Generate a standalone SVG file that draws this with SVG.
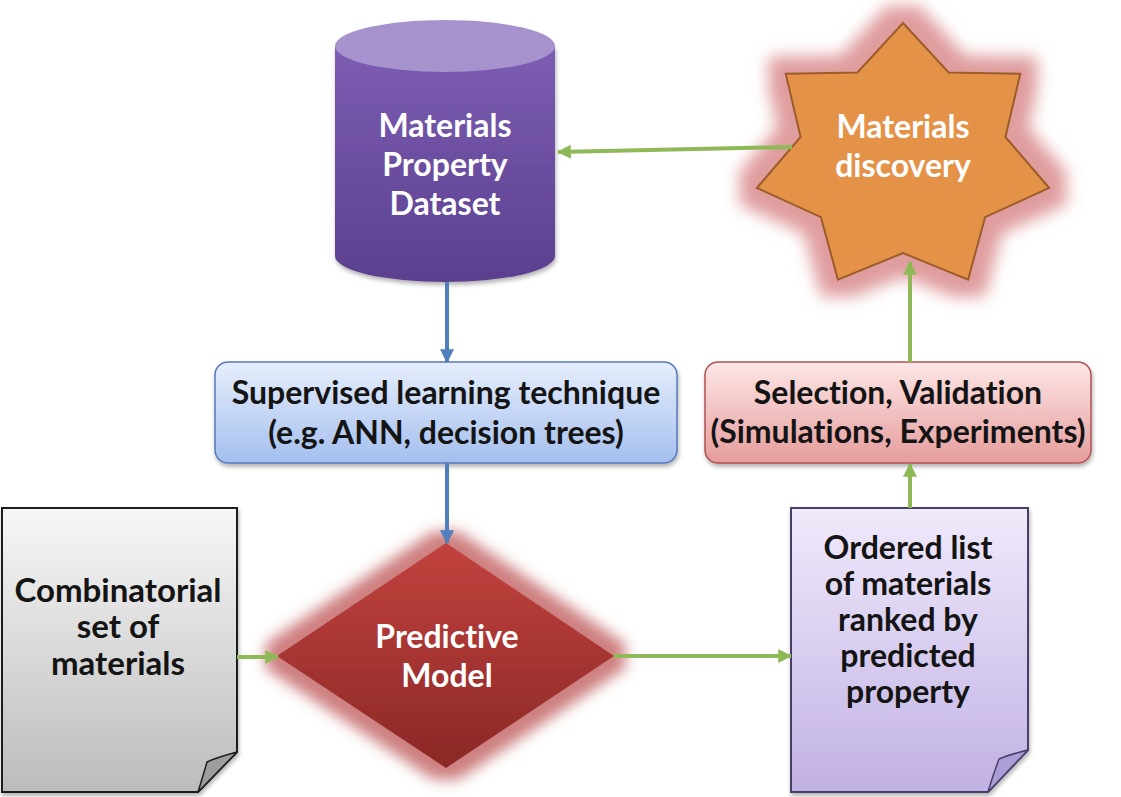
<svg xmlns="http://www.w3.org/2000/svg" width="1121" height="797" viewBox="0 0 1121 797">
<defs>
<style>
.t{font-family:Lato,"Liberation Sans",Arial,sans-serif;font-weight:bold;text-anchor:middle;font-variant-ligatures:none;font-feature-settings:"liga" 0}
.w{fill:#ffffff}
.k{fill:#141414}
.f32{font-size:32px}
.f33{font-size:33px}
.green{stroke:#8fb856;stroke-width:4;fill:none}
.blue{stroke:#4f7fbd;stroke-width:4;fill:none}
</style>
<linearGradient id="gCyl" x1="0" y1="0" x2="0" y2="1">
<stop offset="0" stop-color="#7d5db3"/><stop offset="1" stop-color="#5a408e"/>
</linearGradient>
<linearGradient id="gDia" x1="0" y1="0" x2="0" y2="1">
<stop offset="0" stop-color="#c2423e"/><stop offset="1" stop-color="#8a2826"/>
</linearGradient>
<linearGradient id="gBlue" x1="0" y1="0" x2="0" y2="1">
<stop offset="0" stop-color="#e6eefc"/><stop offset="1" stop-color="#a4bfee"/>
</linearGradient>
<linearGradient id="gRed" x1="0" y1="0" x2="0" y2="1">
<stop offset="0" stop-color="#fde6e6"/><stop offset="1" stop-color="#e69c9c"/>
</linearGradient>
<linearGradient id="gGray" x1="0" y1="0" x2="0" y2="1">
<stop offset="0" stop-color="#f7f7f7"/><stop offset="1" stop-color="#bcbcbc"/>
</linearGradient>
<linearGradient id="gLav" x1="0" y1="0" x2="0" y2="1">
<stop offset="0" stop-color="#f0eafb"/><stop offset="1" stop-color="#c1b1e4"/>
</linearGradient>
<filter id="glowRed" x="-25%" y="-30%" width="150%" height="160%">
<feMorphology in="SourceAlpha" operator="dilate" radius="12" result="d"/>
<feGaussianBlur in="d" stdDeviation="7" result="b"/>
<feFlood flood-color="#b9494a" flood-opacity="0.7"/>
<feComposite in2="b" operator="in" result="g"/>
<feMerge><feMergeNode in="g"/><feMergeNode in="SourceGraphic"/></feMerge>
</filter>
<filter id="glowPink" x="-25%" y="-25%" width="150%" height="150%">
<feMorphology in="SourceAlpha" operator="dilate" radius="16" result="d"/>
<feGaussianBlur in="d" stdDeviation="8" result="b"/>
<feFlood flood-color="#d27274" flood-opacity="0.7"/>
<feComposite in2="b" operator="in" result="g"/>
<feMerge><feMergeNode in="g"/><feMergeNode in="SourceGraphic"/></feMerge>
</filter>
<filter id="shadow" x="-10%" y="-10%" width="120%" height="130%">
<feDropShadow dx="1" dy="3" stdDeviation="2" flood-color="#000" flood-opacity="0.3"/>
</filter>
<marker id="ahG" viewBox="0 0 12 12" refX="11" refY="6" markerWidth="14" markerHeight="14" markerUnits="userSpaceOnUse" orient="auto">
<path d="M0,0 L12,6 L0,12 Z" fill="#8fb856"/>
</marker>
<marker id="ahB" viewBox="0 0 12 12" refX="11" refY="6" markerWidth="14" markerHeight="14" markerUnits="userSpaceOnUse" orient="auto">
<path d="M0,0 L12,6 L0,12 Z" fill="#4f7fbd"/>
</marker>
</defs>
<rect width="1121" height="797" fill="#ffffff"/>

<g id="dataset">
<path d="M335,46 V256 A110,26 0 0 0 555,256 V46 Z" fill="url(#gCyl)" filter="url(#shadow)"/>
<ellipse cx="445" cy="46" rx="110" ry="26" fill="#a693cd"/>
<text class="t w f32" x="445" y="137">Materials</text>
<text class="t w f32" x="445" y="176">Property</text>
<text class="t w f32" x="445" y="215">Dataset</text>
</g>

<g id="discovery">
<polygon points="903,23 948.6,72.4 1020.3,73.8 1005.4,136.9 1049.2,188 985.1,217.2 968.1,279.6 903,253 837.9,279.6 820.9,217.2 756.8,188 800.6,136.9 785.7,73.8 857.4,72.4" fill="#e5924a" stroke="#9c5c28" stroke-width="2" stroke-linejoin="miter" filter="url(#glowPink)"/>
<text class="t w f32" x="903" y="138">Materials</text>
<text class="t w f32" x="903" y="177">discovery</text>
</g>

<g id="supervised">
<rect x="215" y="362" width="462" height="101" rx="13" fill="url(#gBlue)" stroke="#5479b8" stroke-width="1.5" filter="url(#shadow)"/>
<text class="t k f32" x="446" y="404">Supervised learning technique</text>
<text class="t k f32" x="446" y="444">(e.g. ANN, decision trees)</text>
</g>

<g id="selection">
<rect x="705" y="362" width="386" height="101" rx="13" fill="url(#gRed)" stroke="#b05252" stroke-width="1.5" filter="url(#shadow)"/>
<text class="t k f32" x="898" y="404">Selection, Validation</text>
<text class="t k f32" x="898" y="443">(Simulations, Experiments)</text>
</g>

<g id="combinatorial">
<path d="M2,508 H237 V752 L198,792 H2 Z" fill="url(#gGray)" stroke="#1e1e1e" stroke-width="2" filter="url(#shadow)"/>
<path d="M237,752 Q215,758 207,762 Q203,776 198,792 Z" fill="#9d9d9d" stroke="#1e1e1e" stroke-width="1.5" stroke-linejoin="round"/>
<text class="t k f33" x="118" y="602">Combinatorial</text>
<text class="t k f33" x="118" y="638">set of</text>
<text class="t k f33" x="118" y="675">materials</text>
</g>

<g id="predictive">
<polygon points="446,543 614,656 446,768 277,656" fill="url(#gDia)" filter="url(#glowRed)"/>
<text class="t w f32" x="447" y="648">Predictive</text>
<text class="t w f32" x="447" y="687">Model</text>
</g>

<g id="ordered">
<path d="M791,508 H1028 V750 L988,792 H791 Z" fill="url(#gLav)" stroke="#4a3f6b" stroke-width="2" filter="url(#shadow)"/>
<path d="M1028,750 Q1008,755 999,759 Q993,775 988,792 Z" fill="#ad9dd6" stroke="#4a3f6b" stroke-width="1.5" stroke-linejoin="round"/>
<text class="t k f32" x="908" y="559">Ordered list</text>
<text class="t k f32" x="908" y="595">of materials</text>
<text class="t k f32" x="908" y="631">ranked by</text>
<text class="t k f32" x="908" y="667">predicted</text>
<text class="t k f32" x="908" y="703">property</text>
</g>

<g id="connectors">
<line class="blue" x1="447" y1="282" x2="447" y2="362" marker-end="url(#ahB)"/>
<line class="blue" x1="447" y1="463" x2="447" y2="543" marker-end="url(#ahB)"/>
<line class="green" x1="237" y1="657" x2="278" y2="657" marker-end="url(#ahG)"/>
<line class="green" x1="614" y1="656" x2="791" y2="656" marker-end="url(#ahG)"/>
<line class="green" x1="910" y1="508" x2="910" y2="464" marker-end="url(#ahG)"/>
<line class="green" x1="910" y1="362" x2="910" y2="262" marker-end="url(#ahG)"/>
<line class="green" x1="792" y1="147" x2="558" y2="152" marker-end="url(#ahG)"/>
</g>
</svg>
